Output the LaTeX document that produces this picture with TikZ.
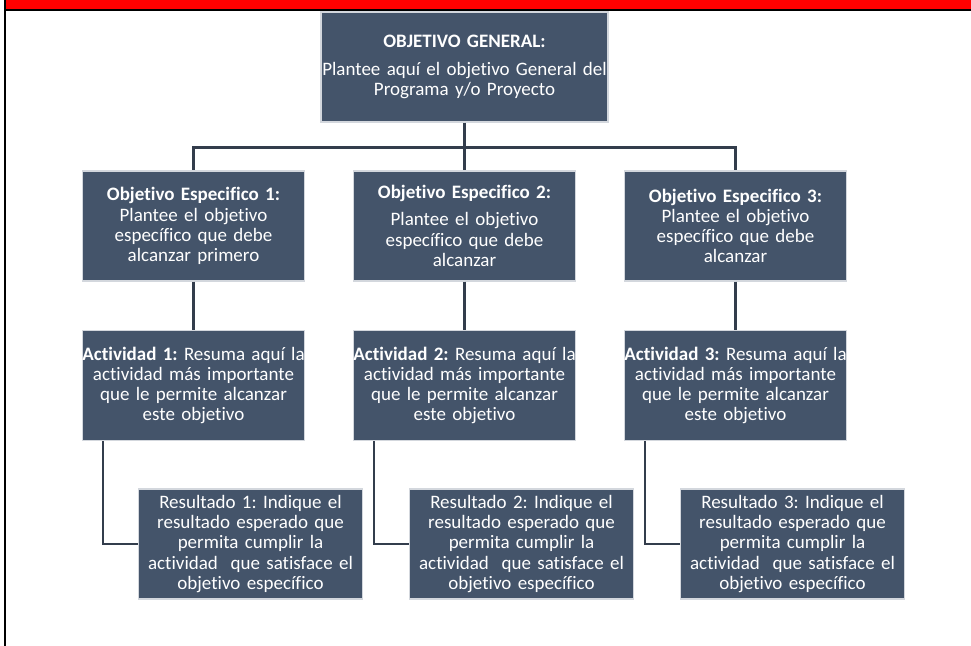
\documentclass[tikz,border=0pt]{standalone}
\usepackage{fontspec}
\setmainfont{Carlito}[Ligatures=NoCommon]
\usetikzlibrary{positioning}

\definecolor{boxfill}{HTML}{44546A}
\definecolor{boxline}{HTML}{D3D7DD}
\definecolor{linkcol}{HTML}{333D4C}
\definecolor{banner}{HTML}{FF0000}

\begin{document}
\begin{tikzpicture}[
    x=1pt, y=1pt,
    node distance=159pt,
    on grid,
    box/.style={rectangle, draw=boxline, line width=1.2pt, fill=boxfill,
        text=white, text width=222pt, minimum height=110pt, inner sep=0pt,
        align=center, font=\fontsize{19}{20.2}\selectfont\frenchspacing},
    wide/.style={box, text width=224pt},
    link/.style={draw=linkcol, line width=2.5pt},
]

    % page frame and banner
    \useasboundingbox[fill=white] (0,0) rectangle (971,-645);
    \draw[black, line width=1.5pt] (5,-10) -- (5,-646);
    \draw[fill=banner, draw=black, line width=1.5pt] (5,2) rectangle (973,-10);

    % general objective
    \node[box, text width=287pt] (G) at (464.5,-67)
        {\textbf{OBJETIVO GENERAL:}\\[8pt]
         Plantee aquí el objetivo General del\\ Programa y/o Proyecto};

    % specific objectives
    \node[box, below =of G]  (E2) {\textbf{Objetivo Especifico 2:}\\[7pt]
        Plantee el objetivo\\ específico que debe\\ alcanzar};
    \node[box, left =271pt of E2]  (E1) {\textbf{Objetivo Especifico 1:}\\
        Plantee el objetivo\\ específico que debe\\ alcanzar primero};
    \node[box, right =271pt of E2] (E3) {\textbf{Objetivo Especifico 3:}\\
        Plantee el objetivo\\ específico que debe\\ alcanzar};

    % activities
    \foreach \i in {1,2,3} {
        \node[box, below =159.5pt of E\i] (A\i)
            {\makebox[\hsize]{\textbf{Actividad \i:} Resuma aquí la}\\
             actividad más importante\\
             que le permite alcanzar\\ este objetivo};
        \node[wide, below right =158.5pt and 57pt of A\i] (R\i)
            {Resultado \i: Indique el\\ resultado esperado que\\ permita cumplir la\\
             actividad\ \ que satisface el\\ objetivo específico};
    }

    % connectors
    \draw[link] (G.south) -- ++(0,-25) coordinate (bus);
    \draw[link] (bus) -| (E1.north);
    \draw[link] (bus) -| (E3.north);
    \draw[link] (bus) -- (E2.north);
    \foreach \i in {1,2,3} {
        \draw[link] (E\i.south) -- (A\i.north);
        \draw[link] ([xshift=21pt]A\i.south west) |- (R\i.west);
    }
\end{tikzpicture}
\end{document}
